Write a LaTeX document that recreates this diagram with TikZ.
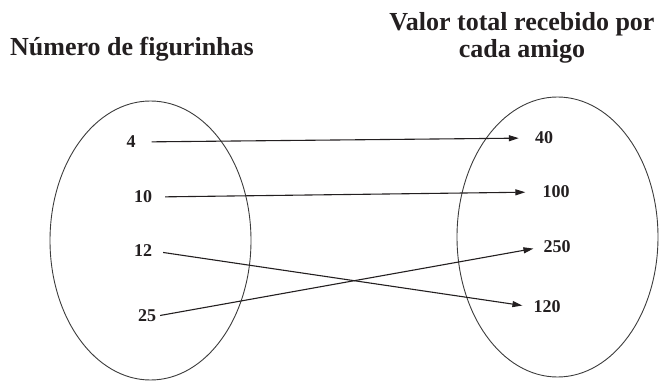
\documentclass[tikz,border=0pt]{standalone}
\usepackage{fontspec}
\setmainfont{Liberation Serif}
\usetikzlibrary{arrows.meta,shapes.geometric}
\definecolor{Ink}{HTML}{231F20}
\definecolor{Rim}{HTML}{3C3C3C}

\begin{document}
\begin{tikzpicture}[x=1pt,y=1pt,>={Triangle[length=10pt,width=6pt]}]
  \tikzset{
    setbox/.style={ellipse, draw=Rim, line width=0.9pt, inner sep=0pt,
      minimum width=201pt, minimum height=279pt},
    heading/.style={font=\bfseries\fontsize{26}{27}\selectfont, text=Ink,
      inner sep=0pt, align=center},
    value/.style={font=\bfseries\fontsize{18}{20}\selectfont, text=Ink, inner sep=1pt},
    link/.style={->, line width=1.1pt, draw=Ink}
  }
  \useasboundingbox (0,0) rectangle (662,381);

  % titles
  \node[heading, anchor=base] (domtitle) at (132,325) {Número de figurinhas};
  \node[heading, anchor=north] (codtitle) at (522,369) {Valor total recebido por\\cada amigo};

  % the two sets
  \node[setbox] (dom) at (150.5,140.5) {};
  \node[setbox, minimum height=280pt] (cod) at (557.5,144) {};

  \node[value] (n4)  at (131,239) {4};
  \node[value] (n10) at (143,184) {10};
  \node[value] (n12) at (143,130) {12};
  \node[value] (n25) at (147,65)  {25};

  \node[value] (v40)  at (544,243) {40};
  \node[value] (v100) at (556,189) {100};
  \node[value] (v250) at (557,134) {250};
  \node[value] (v120) at (547,74)  {120};

  \draw[link, shorten <=15pt, shorten >=15pt] (n4.east) -- (v40.west);
  \draw[link, shorten <=12pt, shorten >=16pt] (n10.east) -- (v100.west);
  \draw[link, shorten <=10pt, shorten >=10pt] (n12.east) -- (v120.west);
  \draw[link, shorten <=3pt, shorten >=9pt] (n25.east) -- (v250.west);
\end{tikzpicture}
\end{document}
